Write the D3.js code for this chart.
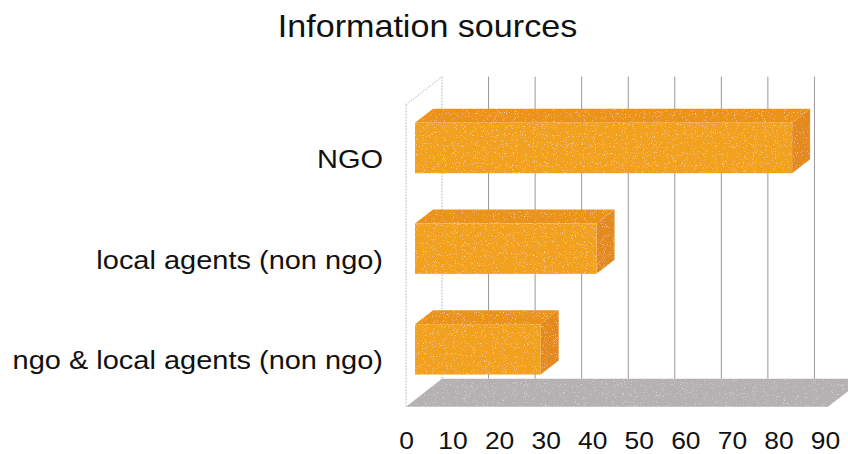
<!DOCTYPE html>
<html>
<head>
<meta charset="utf-8">
<script src="https://cdn.jsdelivr.net/npm/d3@7"></script>
<style>
  html, body { margin: 0; padding: 0; background: #ffffff; }
  svg { display: block; }
  text { font-family: "Liberation Sans", Arial, Helvetica, sans-serif; fill: #111; }
</style>
</head>
<body>
<svg id="chart" width="848" height="454"></svg>
<script>
// Information sources — 3D horizontal bar chart
const title = "Information sources";
const categories = ["NGO", "local agents (non ngo)", "ngo & local agents (non ngo)"];
const values = [81, 39, 27];
const tickValues = [0, 10, 20, 30, 40, 50, 60, 70, 80, 90];
const xMax = 90;

const svg = d3.select("#chart");

// front plane of the plot box and the oblique depth vector
const ox = 406, oy = 104.7;
const plotW = 419, plotH = 302;
const depth = { x: 36, y: -28 };
const stretch = 1.1;

const x = d3.scaleLinear().domain([0, xMax]).range([0, plotW]);
const y = d3.scaleBand().domain(categories).range([0, plotH])
  .paddingInner(0.5).paddingOuter(0.25);

// faint speckle grain for shaded surfaces
const defs = svg.append("defs");
const grain = defs.append("filter").attr("id", "grain")
  .attr("x", 0).attr("y", 0).attr("width", "100%").attr("height", "100%");
grain.append("feTurbulence").attr("type", "fractalNoise")
  .attr("baseFrequency", 0.9).attr("numOctaves", 2).attr("seed", 7).attr("result", "n");
grain.append("feColorMatrix").attr("in", "n").attr("type", "matrix")
  .attr("values", "0 0 0 0 1  0 0 0 0 1  0 0 0 0 1  2.2 0 0 0 -1.35").attr("result", "speck");
grain.append("feComposite").attr("in", "speck").attr("in2", "SourceGraphic")
  .attr("operator", "in").attr("result", "s2");
const gm = grain.append("feMerge");
gm.append("feMergeNode").attr("in", "SourceGraphic");
gm.append("feMergeNode").attr("in", "s2");

// back wall gridlines
const bx = ox + depth.x, by = oy + depth.y;
const floorBackY = oy + plotH + depth.y;
svg.append("g").selectAll("line")
  .data(tickValues.filter(v => v > 0))
  .join("line")
  .attr("x1", d => bx + x(d)).attr("x2", d => bx + x(d))
  .attr("y1", by).attr("y2", floorBackY)
  .attr("stroke", "#9d9797").attr("stroke-width", 1);

// side wall outline (dotted)
const wall = svg.append("g").attr("stroke", "#b4afaf").attr("stroke-width", 1)
  .attr("stroke-dasharray", "1.5,1.5").attr("fill", "none");
wall.append("line").attr("x1", bx).attr("x2", bx).attr("y1", by).attr("y2", floorBackY);
wall.append("line").attr("x1", ox).attr("x2", ox).attr("y1", oy).attr("y2", oy + plotH);
wall.append("line").attr("x1", ox).attr("y1", oy).attr("x2", bx).attr("y2", by);

// floor
const fy = oy + plotH;
svg.append("polygon")
  .attr("points", [
    [ox, fy], [ox + x(xMax) + 3, fy],
    [ox + x(xMax) + 3 + depth.x, fy + depth.y], [bx, fy + depth.y]
  ].map(p => p.join(",")).join(" "))
  .attr("fill", "#b5b0b1")
  .attr("filter", "url(#grain)");

// bars: front face, top face and right side face
const f0 = 0.25, f1 = 0.75;
const bdx = (f1 - f0) * depth.x, bdy = (f1 - f0) * depth.y;
const bars = svg.append("g").selectAll("g")
  .data(categories.map((c, i) => ({ c, v: values[i] })))
  .join("g")
  .attr("filter", "url(#grain)");

bars.each(function (d) {
  const g = d3.select(this);
  const x0 = ox + f0 * depth.x + x(0);
  const x1 = ox + f0 * depth.x + x(d.v);
  const y0 = oy + f0 * depth.y + y(d.c);
  const bw = y.bandwidth();
  const pts = a => a.map(p => p.join(",")).join(" ");
  g.append("polygon")
    .attr("points", pts([[x0, y0], [x1, y0], [x1 + bdx, y0 + bdy], [x0 + bdx, y0 + bdy]]))
    .attr("fill", "#ea9317");
  g.append("polygon")
    .attr("points", pts([[x1, y0], [x1 + bdx, y0 + bdy], [x1 + bdx, y0 + bw + bdy], [x1, y0 + bw]]))
    .attr("fill", "#e48a1c");
  g.append("rect")
    .attr("x", x0).attr("y", y0).attr("width", x1 - x0).attr("height", bw)
    .attr("fill", "#f1a11d");
});

// value axis along the front edge of the floor
const xAxis = svg.append("g")
  .attr("transform", `translate(${ox},${fy + 25})`)
  .call(d3.axisBottom(x).tickValues(tickValues).tickFormat(d3.format("d"))
    .tickSize(0).tickPadding(0));
xAxis.select(".domain").remove();
xAxis.selectAll("text")
  .attr("font-size", 24).attr("font-family", null)
  .attr("fill", "#111").attr("dy", "0.71em")
  .attr("transform", `scale(${stretch},1)`);

// category axis
const yAxis = svg.append("g")
  .attr("transform", `translate(383,${oy})`)
  .call(d3.axisLeft(y).tickSize(0).tickPadding(0));
yAxis.select(".domain").remove();
yAxis.selectAll("text")
  .attr("font-size", 26).attr("font-family", null)
  .attr("fill", "#111").attr("x", 0).attr("dy", "0.5em")
  .attr("transform", "scale(1.115,1)");

// title
svg.append("text")
  .attr("transform", `translate(427.5,37.3) scale(${stretch},1)`)
  .attr("text-anchor", "middle")
  .attr("font-size", 31)
  .text(title);
</script>
</body>
</html>
